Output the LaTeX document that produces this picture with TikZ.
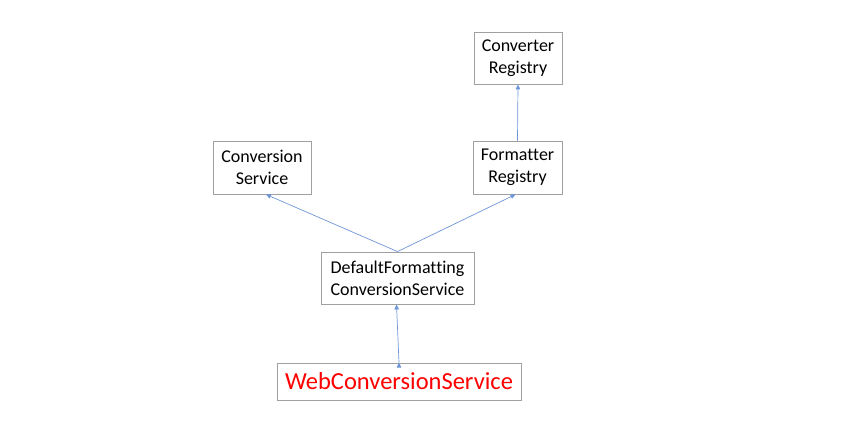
\documentclass[tikz,border=0pt]{standalone}
\usepackage{fontspec}
\setmainfont[Ligatures=NoCommon]{Carlito}
\usetikzlibrary{positioning, arrows.meta}

\definecolor{boxgray}{RGB}{160,160,160}
\definecolor{linkblue}{RGB}{110,150,215}

\begin{document}
\begin{tikzpicture}[x=1pt, y=-1pt, >={Triangle[width=4.5pt,length=5pt]},
					cls/.style={draw=boxgray, line width=0.9pt, align=center, font=\fontsize{18}{22}\selectfont, inner sep=0pt},
					link/.style={->, draw=linkblue, fill=linkblue, line width=0.7pt} ]
					\useasboundingbox (0,0) rectangle (841,432);
					\node[cls, minimum width=88pt, minimum height=52pt]  (reg)  at (518,58)    {Converter\\Registry};
					\node[cls, minimum width=98pt, minimum height=53pt]  (cs)   at (262,167.5) {Conversion\\Service};
					\node[cls, minimum width=89pt, minimum height=53pt]  (fr)   at (517.5,167.5) {Formatter\\Registry};
					\node[cls, minimum width=153pt, minimum height=52pt] (dfcs) at (397.5,278) {DefaultFormatting\\ConversionService};
					\node[cls, minimum width=244pt, minimum height=37pt, text=red, font=\fontsize{24.5}{28}\selectfont] (web) at (399,381.5) {WebConversionService};
					
					%Herança:
					\path[link]
					(fr.north)   edge (reg.south)
					(dfcs.north) edge ([xshift=4pt]cs.south)
					(dfcs.north) edge ([xshift=-2pt]fr.south)
					(web.north)  edge ([xshift=-1pt]dfcs.south);
				\end{tikzpicture}
\end{document}
